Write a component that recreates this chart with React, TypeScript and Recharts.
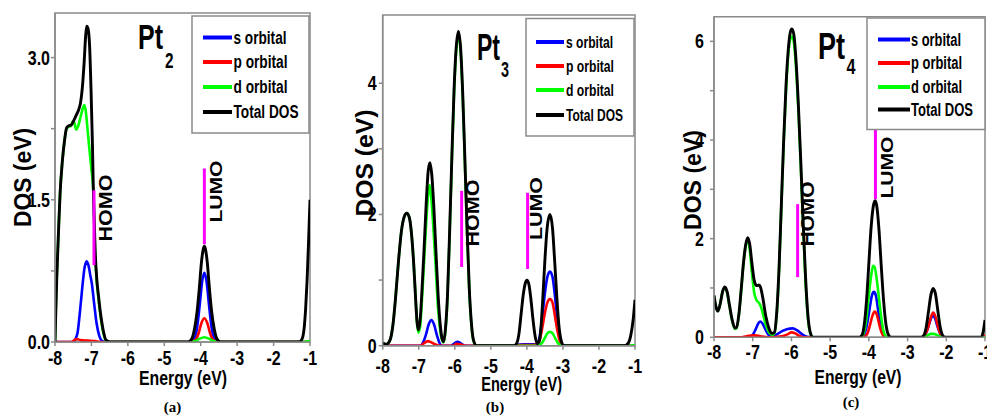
import React from 'react';
import { LineChart, Line, XAxis, YAxis, ReferenceLine, ReferenceArea } from 'recharts';

type P = [number, number];

const energyTicks = [-8, -7, -6, -5, -4, -3, -2, -1];
const legendLabels = ['s orbital', 'p orbital', 'd orbital', 'Total DOS'];
const seriesColors = ['#0000ff', '#ff0000', '#00ff00', '#000000'];

// ---------- Pt2 (a) ----------
const pt2S: P[] = [[-8, 0], [-7.5, 0], [-7.44, 0.03], [-7.38, 0.1], [-7.31, 0.34], [-7.25, 0.58], [-7.19, 0.78], [-7.13, 0.85], [-7.07, 0.79], [-7.03, 0.7], [-6.99, 0.62], [-6.93, 0.42], [-6.86, 0.2], [-6.78, 0.06], [-6.7, 0.01], [-6.6, 0], [-4.3, 0], [-4.17, 0.04], [-4.1, 0.15], [-4.03, 0.38], [-3.96, 0.64], [-3.9, 0.73], [-3.84, 0.64], [-3.77, 0.38], [-3.7, 0.15], [-3.63, 0.04], [-3.5, 0], [-1, 0]];
const pt2P: P[] = [[-8, 0], [-7.55, 0], [-7.47, 0.02], [-7.4, 0.03], [-7.3, 0.02], [-7.1, 0.015], [-6.9, 0.01], [-6.75, 0], [-4.3, 0], [-4.15, 0.02], [-4.06, 0.09], [-3.98, 0.2], [-3.9, 0.25], [-3.82, 0.2], [-3.74, 0.09], [-3.65, 0.02], [-3.5, 0], [-1, 0]];
const pt2D: P[] = [[-8, 0], [-7.98, 0.3], [-7.95, 0.69], [-7.9, 1.2], [-7.86, 1.57], [-7.8, 1.9], [-7.74, 2.12], [-7.68, 2.25], [-7.62, 2.27], [-7.56, 2.28], [-7.5, 2.33], [-7.46, 2.3], [-7.42, 2.24], [-7.37, 2.27], [-7.3, 2.37], [-7.24, 2.46], [-7.19, 2.5], [-7.15, 2.42], [-7.12, 2.3], [-7.06, 2.05], [-7.0, 1.82], [-6.95, 1.6], [-6.92, 1.22], [-6.9, 0.96], [-6.85, 0.62], [-6.81, 0.47], [-6.75, 0.27], [-6.68, 0.11], [-6.6, 0.01], [-6.5, 0], [-4.3, 0], [-4.15, 0.01], [-4.05, 0.03], [-3.9, 0.05], [-3.75, 0.03], [-3.65, 0.01], [-3.5, 0], [-1.25, 0], [-1.0, 0.01]];
const pt2Total: P[] = [[-8, 0], [-7.98, 0.3], [-7.95, 0.69], [-7.9, 1.2], [-7.86, 1.57], [-7.8, 1.9], [-7.74, 2.12], [-7.68, 2.26], [-7.62, 2.28], [-7.55, 2.29], [-7.48, 2.34], [-7.42, 2.39], [-7.35, 2.45], [-7.3, 2.52], [-7.25, 2.68], [-7.2, 2.95], [-7.16, 3.22], [-7.13, 3.33], [-7.09, 3.3], [-7.05, 3.12], [-7.01, 2.65], [-6.97, 2.05], [-6.95, 1.65], [-6.92, 1.25], [-6.9, 0.99], [-6.85, 0.65], [-6.81, 0.5], [-6.75, 0.3], [-6.68, 0.13], [-6.6, 0.02], [-6.5, 0], [-4.35, 0], [-4.25, 0.03], [-4.17, 0.14], [-4.1, 0.32], [-4.04, 0.56], [-3.98, 0.84], [-3.93, 0.98], [-3.9, 1.01], [-3.87, 0.98], [-3.82, 0.84], [-3.76, 0.56], [-3.7, 0.32], [-3.63, 0.14], [-3.55, 0.03], [-3.45, 0], [-1.3, 0], [-1.22, 0.03], [-1.16, 0.15], [-1.12, 0.35], [-1.08, 0.65], [-1.04, 1.05], [-1.0, 1.5]];
const pt2YTicks = [0, 0.75, 1.5, 2.25, 3.0];
const pt2YLabels = ['0.0', '', '1.5', '', '3.0'];
const pt2Homo: P[] = [[-6.93, 0.81], [-6.93, 1.6]];
const pt2Lumo: P[] = [[-3.9, 1.03], [-3.9, 1.83]];

// ---------- Pt3 (b) ----------
const pt3S: P[] = [[-8, 0], [-6.95, 0], [-6.88, 0.05], [-6.8, 0.17], [-6.72, 0.33], [-6.65, 0.39], [-6.58, 0.33], [-6.5, 0.17], [-6.43, 0.05], [-6.36, 0], [-6.1, 0], [-6.0, 0.04], [-5.92, 0.06], [-5.84, 0.04], [-5.72, 0], [-4.35, 0], [-4.3, 0.01], [-4.1, 0.02], [-3.9, 0.02], [-3.75, 0.02], [-3.66, 0.1], [-3.58, 0.4], [-3.5, 0.8], [-3.43, 1.05], [-3.36, 1.13], [-3.29, 1.05], [-3.22, 0.75], [-3.15, 0.38], [-3.08, 0.1], [-3.0, 0.01], [-2.9, 0], [-1, 0]];
const pt3P: P[] = [[-8, 0], [-6.95, 0], [-6.85, 0.04], [-6.75, 0.07], [-6.65, 0.05], [-6.5, 0.01], [-6.4, 0], [-6.05, 0], [-5.95, 0.03], [-5.85, 0.02], [-5.7, 0], [-4.3, 0], [-4.2, 0.01], [-4.0, 0.01], [-3.8, 0.01], [-3.66, 0.06], [-3.58, 0.25], [-3.5, 0.5], [-3.43, 0.66], [-3.36, 0.71], [-3.29, 0.66], [-3.22, 0.45], [-3.15, 0.22], [-3.08, 0.06], [-3.0, 0], [-1, 0]];
const pt3D: P[] = [[-8, 0.04], [-7.9, 0.02], [-7.8, 0.08], [-7.72, 0.3], [-7.64, 0.75], [-7.56, 1.3], [-7.48, 1.75], [-7.4, 1.97], [-7.33, 2.02], [-7.26, 1.95], [-7.2, 1.7], [-7.14, 1.25], [-7.09, 0.75], [-7.05, 0.36], [-7.01, 0.2], [-6.96, 0.3], [-6.91, 0.7], [-6.85, 1.3], [-6.79, 1.9], [-6.74, 2.3], [-6.7, 2.45], [-6.66, 2.3], [-6.6, 1.85], [-6.54, 1.3], [-6.48, 0.7], [-6.42, 0.3], [-6.36, 0.1], [-6.31, 0.05], [-6.26, 0.22], [-6.2, 0.76], [-6.14, 1.75], [-6.08, 2.85], [-6.02, 3.85], [-5.96, 4.5], [-5.9, 4.73], [-5.84, 4.5], [-5.78, 3.8], [-5.72, 2.8], [-5.66, 1.75], [-5.6, 0.86], [-5.54, 0.32], [-5.48, 0.07], [-5.4, 0], [-3.75, 0], [-3.6, 0.03], [-3.5, 0.12], [-3.43, 0.19], [-3.36, 0.21], [-3.29, 0.19], [-3.2, 0.1], [-3.12, 0.03], [-3.0, 0], [-1.2, 0], [-1.0, 0.01]];
const pt3Total: P[] = [[-8, 0.04], [-7.9, 0.02], [-7.8, 0.08], [-7.72, 0.3], [-7.64, 0.75], [-7.56, 1.3], [-7.48, 1.75], [-7.4, 1.97], [-7.33, 2.02], [-7.26, 1.95], [-7.2, 1.7], [-7.14, 1.25], [-7.09, 0.75], [-7.05, 0.38], [-7.01, 0.24], [-6.96, 0.4], [-6.91, 0.85], [-6.85, 1.5], [-6.79, 2.2], [-6.74, 2.65], [-6.69, 2.79], [-6.64, 2.62], [-6.58, 2.1], [-6.52, 1.4], [-6.46, 0.75], [-6.4, 0.3], [-6.35, 0.1], [-6.31, 0.06], [-6.26, 0.25], [-6.2, 0.8], [-6.14, 1.8], [-6.08, 2.9], [-6.02, 3.9], [-5.96, 4.55], [-5.9, 4.79], [-5.84, 4.55], [-5.78, 3.85], [-5.72, 2.85], [-5.66, 1.8], [-5.6, 0.9], [-5.54, 0.35], [-5.48, 0.08], [-5.4, 0], [-4.35, 0], [-4.28, 0.04], [-4.22, 0.18], [-4.16, 0.48], [-4.1, 0.78], [-4.04, 0.96], [-4.0, 1.0], [-3.95, 0.95], [-3.89, 0.72], [-3.83, 0.4], [-3.77, 0.14], [-3.71, 0.03], [-3.67, 0.05], [-3.62, 0.2], [-3.56, 0.7], [-3.5, 1.3], [-3.44, 1.78], [-3.36, 2.0], [-3.29, 1.8], [-3.23, 1.3], [-3.17, 0.75], [-3.11, 0.3], [-3.05, 0.08], [-2.98, 0], [-1.3, 0], [-1.2, 0.03], [-1.12, 0.15], [-1.05, 0.4], [-1.0, 0.7]];
const pt3YTicks = [0, 1, 2, 3, 4];
const pt3YLabels = ['0', '', '2', '', '4'];
const pt3Homo: P[] = [[-5.81, 1.2], [-5.81, 2.36]];
const pt3Lumo: P[] = [[-3.98, 1.17], [-3.98, 2.33]];

// ---------- Pt4 (c) ----------
const pt4S: P[] = [[-8, 0], [-7.1, 0], [-7.0, 0.05], [-6.92, 0.17], [-6.85, 0.29], [-6.8, 0.32], [-6.74, 0.27], [-6.66, 0.14], [-6.58, 0.04], [-6.5, 0.02], [-6.4, 0.05], [-6.25, 0.12], [-6.1, 0.17], [-5.97, 0.18], [-5.85, 0.14], [-5.72, 0.06], [-5.6, 0.01], [-5.5, 0], [-4.2, 0], [-4.12, 0.06], [-4.05, 0.25], [-3.98, 0.58], [-3.92, 0.85], [-3.87, 0.92], [-3.82, 0.85], [-3.76, 0.55], [-3.69, 0.22], [-3.62, 0.05], [-3.55, 0], [-2.62, 0], [-2.55, 0.04], [-2.48, 0.17], [-2.41, 0.35], [-2.35, 0.44], [-2.29, 0.38], [-2.22, 0.2], [-2.15, 0.06], [-2.08, 0], [-1, 0]];
const pt4P: P[] = [[-8, 0], [-7.3, 0], [-7.1, 0.03], [-6.95, 0.04], [-6.8, 0.02], [-6.6, 0], [-6.25, 0.02], [-6.1, 0.06], [-6.0, 0.1], [-5.9, 0.08], [-5.8, 0.03], [-5.65, 0], [-4.15, 0], [-4.05, 0.06], [-3.98, 0.22], [-3.91, 0.43], [-3.85, 0.52], [-3.79, 0.45], [-3.72, 0.22], [-3.65, 0.06], [-3.56, 0], [-2.62, 0], [-2.55, 0.05], [-2.47, 0.2], [-2.4, 0.4], [-2.34, 0.5], [-2.28, 0.42], [-2.21, 0.2], [-2.14, 0.05], [-2.07, 0], [-1.05, 0], [-1.0, 0.05]];
const pt4D: P[] = [[-8, 0.85], [-7.95, 0.62], [-7.9, 0.53], [-7.84, 0.68], [-7.78, 0.92], [-7.72, 1.0], [-7.66, 0.9], [-7.6, 0.63], [-7.53, 0.33], [-7.46, 0.17], [-7.42, 0.18], [-7.36, 0.43], [-7.3, 0.93], [-7.24, 1.48], [-7.18, 1.86], [-7.13, 1.98], [-7.08, 1.8], [-7.02, 1.3], [-6.96, 0.9], [-6.9, 0.75], [-6.84, 0.7], [-6.78, 0.6], [-6.72, 0.42], [-6.66, 0.25], [-6.58, 0.1], [-6.5, 0.05], [-6.44, 0.08], [-6.38, 0.45], [-6.32, 1.35], [-6.26, 2.65], [-6.2, 3.95], [-6.14, 5.0], [-6.08, 5.75], [-6.03, 6.05], [-5.99, 6.1], [-5.94, 6.0], [-5.88, 5.45], [-5.82, 4.6], [-5.76, 3.5], [-5.7, 2.3], [-5.64, 1.2], [-5.58, 0.45], [-5.52, 0.1], [-5.45, 0], [-4.2, 0], [-4.12, 0.12], [-4.06, 0.4], [-4.0, 0.85], [-3.94, 1.25], [-3.89, 1.45], [-3.85, 1.42], [-3.8, 1.2], [-3.74, 0.8], [-3.68, 0.4], [-3.62, 0.12], [-3.56, 0.02], [-3.5, 0], [-2.6, 0], [-2.5, 0.03], [-2.4, 0.07], [-2.33, 0.07], [-2.25, 0.05], [-2.15, 0.01], [-2.05, 0], [-1.0, 0]];
const pt4Total: P[] = [[-8, 0.85], [-7.95, 0.62], [-7.9, 0.53], [-7.84, 0.68], [-7.78, 0.92], [-7.72, 1.02], [-7.66, 0.92], [-7.6, 0.65], [-7.53, 0.35], [-7.46, 0.19], [-7.42, 0.2], [-7.36, 0.45], [-7.3, 0.95], [-7.24, 1.5], [-7.18, 1.88], [-7.13, 2.02], [-7.08, 1.9], [-7.02, 1.5], [-6.96, 1.15], [-6.9, 1.05], [-6.84, 1.06], [-6.8, 1.02], [-6.74, 0.8], [-6.66, 0.42], [-6.58, 0.18], [-6.5, 0.08], [-6.44, 0.1], [-6.38, 0.5], [-6.32, 1.4], [-6.26, 2.7], [-6.2, 4.0], [-6.14, 5.1], [-6.08, 5.85], [-6.03, 6.18], [-5.99, 6.25], [-5.94, 6.15], [-5.88, 5.6], [-5.82, 4.7], [-5.76, 3.6], [-5.7, 2.4], [-5.64, 1.3], [-5.58, 0.5], [-5.52, 0.12], [-5.45, 0], [-4.25, 0], [-4.18, 0.04], [-4.12, 0.25], [-4.06, 0.75], [-4.0, 1.5], [-3.94, 2.25], [-3.88, 2.68], [-3.84, 2.77], [-3.8, 2.68], [-3.74, 2.2], [-3.68, 1.45], [-3.62, 0.75], [-3.56, 0.27], [-3.5, 0.06], [-3.43, 0], [-2.65, 0], [-2.58, 0.04], [-2.52, 0.2], [-2.46, 0.52], [-2.4, 0.85], [-2.34, 0.99], [-2.28, 0.88], [-2.22, 0.55], [-2.16, 0.22], [-2.1, 0.05], [-2.03, 0], [-1.1, 0], [-1.05, 0.1], [-1.0, 0.35]];
const pt4YTicks = [0, 1, 2, 3, 4, 5, 6];
const pt4YLabels = ['0', '', '2', '', '4', '', '6'];
const pt4Homo: P[] = [[-5.84, 1.22], [-5.84, 2.7]];
const pt4Lumo: P[] = [[-3.83, 2.8], [-3.83, 4.22]];

const SANS = "'Liberation Sans', Arial, sans-serif";
const SERIF = "'Liberation Serif', 'DejaVu Serif', serif";
const AXIS = '#8a8a8a';
const SQUEEZE = 0.8;

const toData = (pts: P[]) => pts.map(([e, dos]) => ({ e, dos }));
const seg = (pts: P[]) => pts.map(([x, y]) => ({ x, y }));

type PanelCfg = {
  left: number; width: number;
  margin: { top: number; right: number; bottom: number; left: number };
  yMax: number; yTicks: number[]; yLabels: string[];
  series: P[][]; homo: P[]; lumo: P[];
  plotLeft: number; plotBottom: number; xLabelDy: number; yLabelGap: number;
};

const panels: PanelCfg[] = [
  { left: 0, width: 330, margin: { top: 13, right: 20, bottom: 46, left: 15 }, yMax: 3.47, yTicks: pt2YTicks, yLabels: pt2YLabels, series: [pt2S, pt2P, pt2D, pt2Total], homo: pt2Homo, lumo: pt2Lumo, plotLeft: 55, plotBottom: 342, xLabelDy: 23, yLabelGap: 5 },
  { left: 330, width: 330, margin: { top: 15, right: 25, bottom: 42.3, left: 12.7 }, yMax: 5.04, yTicks: pt3YTicks, yLabels: pt3YLabels, series: [pt3S, pt3P, pt3D, pt3Total], homo: pt3Homo, lumo: pt3Lumo, plotLeft: 52.7, plotBottom: 345.7, xLabelDy: 27, yLabelGap: 6 },
  { left: 660, width: 327, margin: { top: 16.7, right: 2, bottom: 50.7, left: 14 }, yMax: 6.5, yTicks: pt4YTicks, yLabels: pt4YLabels, series: [pt4S, pt4P, pt4D, pt4Total], homo: pt4Homo, lumo: pt4Lumo, plotLeft: 54, plotBottom: 337.3, xLabelDy: 22, yLabelGap: 10 },
];

function Squeezed({ x, y, anchor, fs, children }: { x: number; y: number; anchor: 'start' | 'middle' | 'end'; fs: number; children: React.ReactNode }) {
  return (
    <text transform={`translate(${x},${y}) scale(${SQUEEZE},1)`} textAnchor={anchor} fontFamily={SANS} fontWeight="bold" fontSize={fs} fill="#000">
      {children}
    </text>
  );
}

function Panel({ cfg }: { cfg: PanelCfg }) {
  return (
    <div style={{ position: 'absolute', left: cfg.left, top: 0, width: cfg.width, height: 418 }}>
      <LineChart width={cfg.width} height={418} margin={cfg.margin}>
        <ReferenceArea x1={-8} x2={-1} y1={0} y2={cfg.yMax} fill="none" stroke={AXIS} strokeWidth={1.5} ifOverflow="visible" />
        <XAxis
          type="number" dataKey="e" domain={[-8, -1]} ticks={energyTicks} allowDataOverflow interval={0}
          height={30} tickSize={4} stroke={AXIS} axisLine={{ stroke: AXIS, strokeWidth: 1.5 }} tickLine={{ stroke: AXIS, strokeWidth: 1.5 }}
          tick={(p: any) => (
            <Squeezed x={p.x} y={cfg.plotBottom + cfg.xLabelDy} anchor="middle" fs={20}>
              {String(p.payload.value)}
            </Squeezed>
          )}
        />
        <YAxis
          type="number" domain={[0, cfg.yMax]} ticks={cfg.yTicks} allowDataOverflow interval={0}
          width={40} tickSize={4} stroke={AXIS} axisLine={{ stroke: AXIS, strokeWidth: 1.5 }} tickLine={{ stroke: AXIS, strokeWidth: 1.5 }}
          tick={(p: any) => {
            const i = cfg.yTicks.indexOf(p.payload.value);
            return (
              <Squeezed x={cfg.plotLeft - cfg.yLabelGap} y={p.y + 7} anchor="end" fs={20}>
                {i >= 0 ? cfg.yLabels[i] : ''}
              </Squeezed>
            );
          }}
        />
        {cfg.series.map((s, i) => (
          <Line key={i} data={toData(s)} dataKey="dos" type="monotone" stroke={seriesColors[i]} strokeWidth={i === 3 ? 2.9 : 2.6} dot={false} activeDot={false} isAnimationActive={false} />
        ))}
        <ReferenceLine segment={seg(cfg.homo)} stroke="#ff00ff" strokeWidth={3} ifOverflow="visible" />
        <ReferenceLine segment={seg(cfg.lumo)} stroke="#ff00ff" strokeWidth={3} ifOverflow="visible" />
      </LineChart>
    </div>
  );
}

type LegendCfg = { x: number; y: number; w: number; h: number; rows: number[]; lx1: number; lx2: number; tx: number; fs: number; widths: number[] };
const legends: LegendCfg[] = [
  { x: 192, y: 16, w: 117, h: 117, rows: [37.5, 62, 87, 112], lx1: 203, lx2: 232, tx: 233.5, fs: 18, widths: [53, 54, 54, 65] },
  { x: 526, y: 18.5, w: 108, h: 117.5, rows: [42, 66, 90, 115], lx1: 536, lx2: 564, tx: 566, fs: 17, widths: [47, 48, 48, 57] },
  { x: 867, y: 18, w: 118, h: 111.5, rows: [39.5, 63, 87, 109.5], lx1: 878, lx2: 910, tx: 911, fs: 17.5, widths: [50, 51, 51, 62] },
];

function Rot({ cx, cy, len, fs, text }: { cx: number; cy: number; len: number; fs: number; text: string }) {
  return (
    <text x={cx} y={cy} dy="0.36em" transform={`rotate(-90 ${cx} ${cy})`} textAnchor="middle" fontFamily={SANS} fontWeight="bold" fontSize={fs} fill="#000" textLength={len} lengthAdjust="spacingAndGlyphs">
      {text}
    </text>
  );
}

function Fit({ x, y, len, fs, text, anchor = 'start' }: { x: number; y: number; len: number; fs: number; text: string; anchor?: 'start' | 'middle' | 'end' }) {
  return (
    <text x={x} y={y} textAnchor={anchor} fontFamily={SANS} fontWeight="bold" fontSize={fs} fill="#000" textLength={len} lengthAdjust="spacingAndGlyphs">
      {text}
    </text>
  );
}

export default function App() {
  return (
    <div style={{ position: 'absolute', left: 0, top: 0, width: 987, height: 418, background: '#fff', overflow: 'hidden' }}>
      {panels.map((c, i) => <Panel key={i} cfg={c} />)}
      <svg width={987} height={418} style={{ position: 'absolute', left: 0, top: 0, pointerEvents: 'none' }}>
        {legends.map((l, li) => (
          <g key={li}>
            <rect x={l.x} y={l.y} width={l.w} height={l.h} fill="#fff" stroke={AXIS} strokeWidth={1.5} />
            {legendLabels.map((lab, i) => (
              <g key={i}>
                <line x1={l.lx1} x2={l.lx2} y1={l.rows[i]} y2={l.rows[i]} stroke={seriesColors[i]} strokeWidth={4} />
                <text x={l.tx} y={l.rows[i]} dy="0.36em" fontFamily={SANS} fontWeight="bold" fontSize={l.fs} fill="#000" textLength={l.widths[i]} lengthAdjust="spacingAndGlyphs">{lab}</text>
              </g>
            ))}
          </g>
        ))}
        {/* titles */}
        <Fit x={138} y={49} len={25} fs={35} text="Pt" />
        <Fit x={165} y={68} len={8.5} fs={22} text="2" />
        <Fit x={477} y={60} len={23} fs={36} text="Pt" />
        <Fit x={501} y={77} len={8} fs={22} text="3" />
        <Fit x={818} y={59} len={27} fs={36} text="Pt" />
        <Fit x={846.5} y={74} len={9} fs={22} text="4" />
        {/* HOMO / LUMO */}
        <Rot cx={106} cy={208} len={67} fs={18} text="HOMO" />
        <Rot cx={215.5} cy={191.5} len={62} fs={17} text="LUMO" />
        <Rot cx={472.5} cy={213} len={67} fs={18} text="HOMO" />
        <Rot cx={536} cy={208.5} len={63} fs={17} text="LUMO" />
        <Rot cx={808} cy={214} len={65} fs={18} text="HOMO" />
        <Rot cx={886.5} cy={167.5} len={62} fs={17} text="LUMO" />
        {/* y axis titles */}
        <Rot cx={23} cy={177.5} len={99} fs={23} text="DOS (eV)" />
        <Rot cx={364} cy={163} len={107} fs={24} text="DOS (eV)" />
        <Rot cx={692.5} cy={180} len={100} fs={23} text="DOS (eV)" />
        {/* x axis titles */}
        <Fit x={183} y={385} len={88} fs={20} text="Energy (eV)" anchor="middle" />
        <Fit x={521.7} y={391} len={81} fs={21} text="Energy (eV)" anchor="middle" />
        <Fit x={858} y={384} len={87} fs={20} text="Energy (eV)" anchor="middle" />
        {/* captions */}
        <text x={172.5} y={412} textAnchor="middle" fontFamily={SERIF} fontWeight="bold" fontSize={15}>(a)</text>
        <text x={495} y={412} textAnchor="middle" fontFamily={SERIF} fontWeight="bold" fontSize={15}>(b)</text>
        <text x={851} y={407} textAnchor="middle" fontFamily={SERIF} fontWeight="bold" fontSize={15}>(c)</text>
      </svg>
    </div>
  );
}
